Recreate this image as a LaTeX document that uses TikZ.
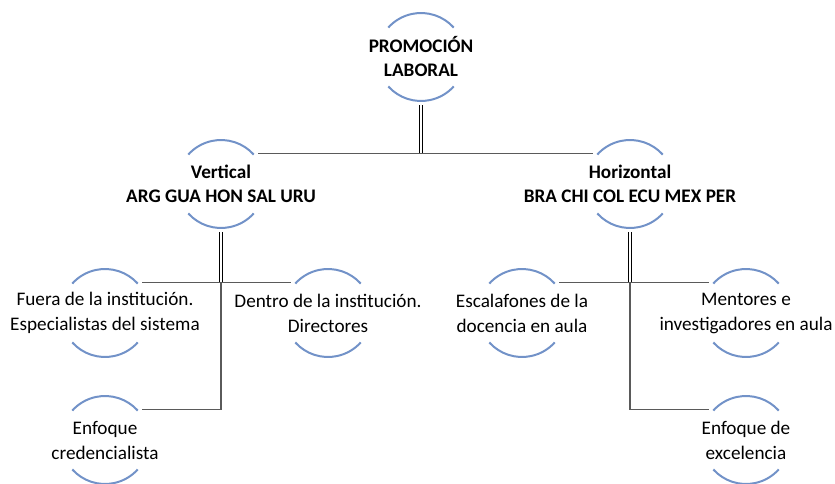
\documentclass[tikz,border=0pt]{standalone}
\usepackage{fontspec}
\setmainfont{Carlito}
\definecolor{ringblue}{RGB}{114,146,200}
\definecolor{linkgray}{RGB}{90,90,90}

\begin{document}
\begin{tikzpicture}[x=1pt, y=1pt,
    ring/.style={circle, minimum size=96pt, inner sep=0pt,
      path picture={
        \draw[ringblue, line width=2pt] (path picture bounding box.center)
          ++(42:44pt) arc[start angle=42, end angle=138, radius=44pt];
        \draw[ringblue, line width=2pt] (path picture bounding box.center)
          ++(222:44pt) arc[start angle=222, end angle=318, radius=44pt];
      }},
    txt/.style={align=center, inner sep=0pt, font=\fontsize{19.2}{25}\selectfont},
    head/.style={align=center, inner sep=0pt, font=\fontsize{19.2}{24}\selectfont\bfseries},
    link/.style={draw=linkgray, line width=1.1pt},
    twin/.style={draw=black, double, double distance=2.2pt, line width=0.5pt}]

\useasboundingbox (0,0) rectangle (835,483);

\node[ring, label={[head]center:PROMOCIÓN\\LABORAL}] (root) at (421,426) {};

\node[ring, label={[head]center:Vertical\\ARG GUA HON SAL URU}] (vert) at (221,299) {};
\node[ring, label={[head]center:Horizontal\\BRA CHI COL ECU MEX PER}] (horiz) at (630,299) {};

\node[ring, label={[txt]center:Fuera de la institución.\\Especialistas del sistema}] (fuera) at (105,170) {};
\node[ring, label={[txt]center:Dentro de la institución.\\Directores}] (dentro) at (328,170) {};
\node[ring, label={[txt]center:Escalafones de la\\docencia en aula}] (escal) at (522,170) {};
\node[ring, label={[txt]center:Mentores e\\investigadores en aula}] (mentores) at (746,170) {};

\node[ring, label={[txt]center:Enfoque\\credencialista}] (cred) at (105,43) {};
\node[ring, label={[txt]center:Enfoque de\\excelencia}] (excel) at (746,43) {};

% connectors
\draw[twin] (root.south) -- (root.south |- vert.39);
\draw[link] (vert.39) -- (horiz.141);

\draw[twin] (vert.south) -- (vert.south |- fuera.39);
\draw[link] (fuera.39) -- (dentro.141);
\draw[link] (vert.south |- fuera.39) |- (cred.39);

\draw[twin] (horiz.south) -- (horiz.south |- escal.39);
\draw[link] (escal.39) -- (mentores.141);
\draw[link] (horiz.south |- escal.39) |- (excel.141);

\end{tikzpicture}
\end{document}
